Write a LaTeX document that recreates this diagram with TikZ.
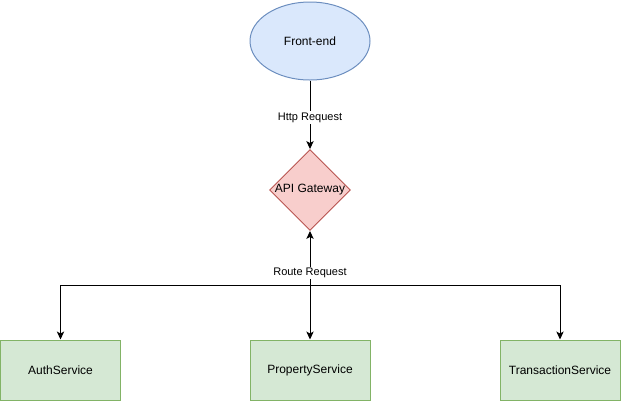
\documentclass[tikz,border=0pt]{standalone}
\usepackage{fontspec}
\setmainfont{Liberation Sans}
\usetikzlibrary{shapes.geometric,arrows.meta}
\definecolor{bluefill}{HTML}{DAE8FC}
\definecolor{bluedraw}{HTML}{6C8EBF}
\definecolor{redfill}{HTML}{F8CECC}
\definecolor{reddraw}{HTML}{B85450}
\definecolor{greenfill}{HTML}{D5E8D4}
\definecolor{greendraw}{HTML}{82B366}
\tikzset{
  every node/.style={font=\fontsize{9pt}{11pt}\selectfont, text=black},
  ell/.style={ellipse, draw=bluedraw, fill=bluefill, line width=0.75pt, minimum width=120*0.75pt, minimum height=78*0.75pt, inner sep=0pt},
  dia/.style={diamond, draw=reddraw, fill=redfill, line width=0.75pt, minimum width=80*0.75pt, minimum height=80*0.75pt, inner sep=0pt},
  svc/.style={rectangle, draw=greendraw, fill=greenfill, line width=0.75pt, minimum width=120*0.75pt, minimum height=60*0.75pt, inner sep=0pt},
  conn/.style={line width=0.75pt, draw=black},
  arr/.style={conn, -{Stealth[length=6pt,width=5.5pt,inset=1.5pt]}},
  lbl/.style={fill=white, font=\fontsize{8.25pt}{10pt}\selectfont, inner sep=1pt}
}
\begin{document}
\begin{tikzpicture}[x=0.75pt,y=-0.75pt]
\useasboundingbox (0,0) rectangle (621,401);
\node[ell] (fe) at (310,41) {Front-end};
\node[dia] (gw) at (310,190) {API Gateway};
\node[svc] (auth) at (60.5,370) {AuthService};
\node[svc] (prop) at (310,370) {PropertyService};
\node[svc] (tran) at (560,370) {TransactionService};
\coordinate (j) at (310,285);
\coordinate (jl) at (60.5,285);
\coordinate (jr) at (560,285);
\draw[arr] (fe) -- node[lbl, pos=0.5, yshift=-2.2pt] {Http Request} (gw);
\draw[arr] (j) -- (gw.south);
\draw[arr] (j) -- (prop.north);
\draw[arr] (jl) -- (jr) -- (tran.north);
\draw[arr] (jl) -- (auth.north);
\node[lbl] (rr) at (310,273) {Route Request};
\end{tikzpicture}
\end{document}
